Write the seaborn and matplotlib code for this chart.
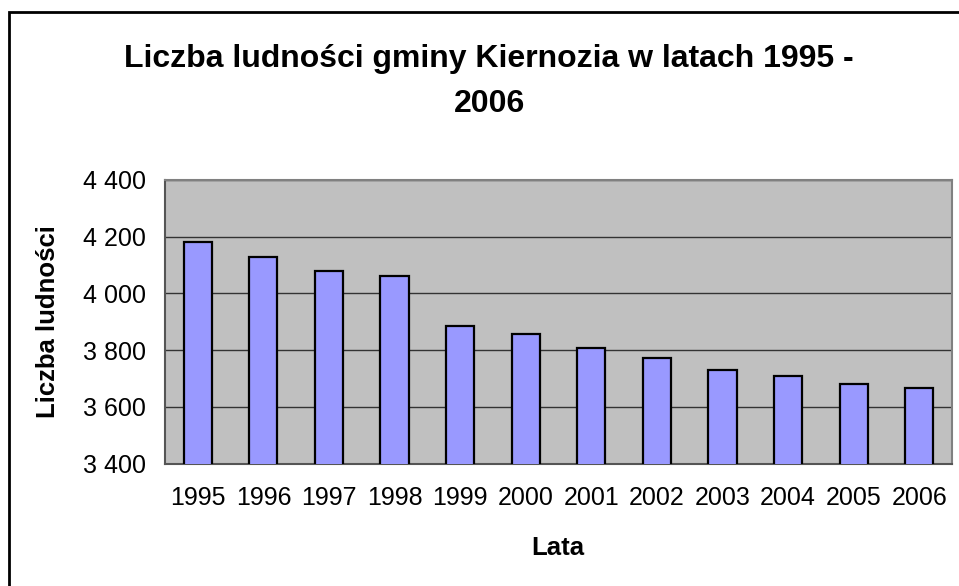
import matplotlib
matplotlib.use("Agg")
import matplotlib.pyplot as plt
import seaborn as sns
import pandas as pd
from matplotlib.patches import Rectangle
from matplotlib.ticker import FuncFormatter, FixedLocator

years = ["1995", "1996", "1997", "1998", "1999", "2000",
         "2001", "2002", "2003", "2004", "2005", "2006"]
population = [4182, 4128, 4080, 4062, 3885, 3857,
              3806, 3771, 3729, 3708, 3680, 3665]
y_ticks = [3400, 3600, 3800, 4000, 4200, 4400]

title_line1 = "Liczba ludności gminy Kiernozia w latach 1995 -"
title_line2 = "2006"
x_label = "Lata"
y_label = "Liczba ludności"

df = pd.DataFrame({"rok": years, "ludnosc": population})

sns.set_style("white")
plt.rcParams["font.family"] = ["Liberation Sans", "DejaVu Sans"]
plt.rcParams["text.color"] = "black"
plt.rcParams["xtick.labelcolor"] = "black"
plt.rcParams["ytick.labelcolor"] = "black"

fig = plt.figure(figsize=(9.59, 5.86), dpi=100)
ax = fig.add_axes([165 / 959, 1 - 463.5 / 586, (952 - 165) / 959, (463.5 - 180) / 586])

sns.barplot(data=df, x="rok", y="ludnosc", color="#9999FF", edgecolor="black",
            linewidth=1.6, width=0.43, saturation=1, ax=ax, zorder=3)

ax.set_facecolor("#C0C0C0")
ax.set_ylim(3400, 4400)
ax.set_xlim(-0.5, len(years) - 0.5)
ax.yaxis.set_major_locator(FixedLocator(y_ticks))
ax.yaxis.set_major_formatter(FuncFormatter(lambda v, p: f"{int(v):,}".replace(",", " ")))
ax.grid(axis="y", color="#333333", linewidth=1.0, zorder=1)
ax.set_axisbelow(True)

# x ticks at category boundaries
ax.set_xticks([i - 0.5 for i in range(len(years) + 1)], minor=False)
ax.set_xticklabels([""] * (len(years) + 1))
ax.set_xticks(range(len(years)), minor=True)
ax.set_xticklabels(years, minor=True)
ax.tick_params(axis="x", which="major", direction="out", length=6, width=1, color="#333333")
ax.tick_params(axis="x", which="minor", length=0, pad=16, labelsize=18, labelcolor="black")
ax.tick_params(axis="y", direction="out", length=6, width=1, color="#333333", pad=8,
               labelsize=18, labelcolor="black")

for side in ["left", "bottom"]:
    ax.spines[side].set_color("#555555")
    ax.spines[side].set_linewidth(1.5)
for side in ["top", "right"]:
    ax.spines[side].set_color("#808080")
    ax.spines[side].set_linewidth(1.5)

ax.set_xlabel("")
ax.set_ylabel("")

fig.text(489 / 959, 1 - 67.5 / 586, title_line1, ha="center", va="baseline",
         fontsize=23, fontweight="bold", color="black")
fig.text(489 / 959, 1 - 112.5 / 586, title_line2, ha="center", va="baseline",
         fontsize=23, fontweight="bold", color="black")
fig.text(558 / 959, 1 - 555 / 586, x_label, ha="center", va="baseline",
         fontsize=18.5, fontweight="bold", color="black")
fig.text(48 / 959, 1 - 321.5 / 586, y_label, ha="center", va="center",
         rotation=90, fontsize=18.5, fontweight="bold", color="black")

border = Rectangle((9 / 959, -0.2), 1.2, 1.2 - 12 / 586, transform=fig.transFigure,
                   fill=False, edgecolor="black", linewidth=2, zorder=10)
fig.patches.append(border)

fig.savefig("out.png", dpi=100)
